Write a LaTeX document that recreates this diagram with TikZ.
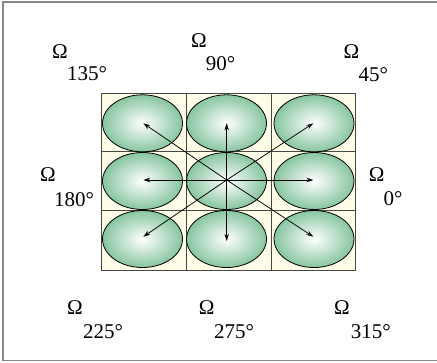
\documentclass[tikz,border=0pt]{standalone}
\usepackage{fontspec}
\setmainfont{Liberation Serif}
\usetikzlibrary{shapes.geometric,arrows.meta}
\definecolor{cellbg}{RGB}{255,252,232}
\definecolor{gridc}{RGB}{70,70,70}
\definecolor{ellout}{RGB}{135,197,160}
\definecolor{framec}{RGB}{135,135,135}
\tikzset{
  cellbox/.style={draw=gridc, line width=0.7pt, fill=cellbg},
  blob/.style={ellipse, draw=black, line width=0.8pt, minimum width=80pt, minimum height=57pt, inner sep=0pt, shade, inner color=white, outer color=ellout},
  dirarrow/.style={-{Stealth[length=7pt,width=4.5pt]}, line width=0.75pt, black},
  lbl/.style={inner sep=0pt, font=\fontsize{21}{23}\selectfont},
}
\begin{document}
\begin{tikzpicture}[x=1pt,y=-1pt]
\useasboundingbox (0,0) rectangle (437,362);
\draw[framec, line width=1.6pt] (437,2) -- (3,2) -- (3,360.5) -- (437,360.5);
% cells
\foreach \xa/\xb in {101.7/186.7,186.7/271.7,271.7/355.7}{
  \foreach \ya/\yb in {93.3/151.7,151.7/210,210/270}{
    \draw[cellbox] (\xa,\ya) rectangle (\xb,\yb);
  }
}
% ellipses
\node[blob] (e11) at (142.5,123.3) {};
\node[blob] (e12) at (226.5,123.3) {};
\node[blob] (e13) at (314,123.3) {};
\node[blob] (e21) at (142.5,181) {};
\node[blob] (e22) at (226.5,181) {};
\node[blob] (e23) at (314,181) {};
\node[blob] (e31) at (142.5,239) {};
\node[blob] (e32) at (226.5,239) {};
\node[blob] (e33) at (314,239) {};
% arrows
\coordinate (o) at (226.7,180);
\coordinate (t11) at (143.3,123.3);
\coordinate (t12) at (226.7,123.3);
\coordinate (t13) at (313.3,123.3);
\coordinate (t21) at (143.3,180);
\coordinate (t23) at (313.3,180);
\coordinate (t31) at (143.3,236.7);
\coordinate (t32) at (226.7,241);
\coordinate (t33) at (313.3,236.7);
\foreach \t in {t11,t12,t13,t21,t23,t31,t32,t33}{
  \draw[dirarrow] (o) -- (\t);
}
% labels
\node[lbl] (o135) at (60,51.5) {Ω};
\node[lbl] (d135) at (87,73.5) {135°};
\node[lbl] (o90) at (199,40.5) {Ω};
\node[lbl] (d90) at (220.5,63.3) {90°};
\node[lbl] (o45) at (351.5,51.5) {Ω};
\node[lbl] (d45) at (373.3,74.5) {45°};
\node[lbl] (o180) at (48,175) {Ω};
\node[lbl] (d180) at (74,199.5) {180°};
\node[lbl] (o0) at (376.7,175) {Ω};
\node[lbl] (d0) at (393,199) {0°};
\node[lbl] (o225) at (75,308) {Ω};
\node[lbl] (d225) at (103,331.7) {225°};
\node[lbl] (o275) at (206.7,308) {Ω};
\node[lbl] (d275) at (234,331.7) {275°};
\node[lbl] (o315) at (342,308) {Ω};
\node[lbl] (d315) at (370.7,331.7) {315°};
\end{tikzpicture}
\end{document}
